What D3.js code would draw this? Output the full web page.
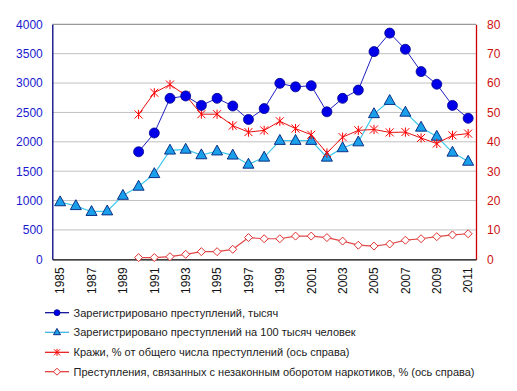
<!DOCTYPE html>
<html>
<head>
<meta charset="utf-8">
<script src="https://cdn.jsdelivr.net/npm/d3@7"></script>
<style>
  html, body { margin: 0; padding: 0; background: #fff; }
  svg { display: block; font-family: "Liberation Sans", Arial, sans-serif; }
</style>
</head>
<body>
<svg id="chart" width="517" height="391"></svg>
<script>
const years = d3.range(1985, 2012);
const tickYears = [1985, 1987, 1989, 1991, 1993, 1995, 1997, 1999, 2001, 2003, 2005, 2007, 2009, 2011];
const leftTicks = [0, 500, 1000, 1500, 2000, 2500, 3000, 3500, 4000];
const rightTicks = [0, 10, 20, 30, 40, 50, 60, 70, 80];

// Registered crimes, thousands (from 1990)
const crimesYears = d3.range(1990, 2012);
const crimes = [1830, 2150, 2740, 2780, 2620, 2740, 2610, 2380, 2565, 2995, 2935, 2955, 2510, 2740, 2880, 3535, 3850, 3575, 3195, 2980, 2620, 2400];

// Registered crimes per 100 thousand people (from 1985)
const perCapita = [975, 910, 810, 820, 1085, 1240, 1455, 1855, 1870, 1775, 1840, 1770, 1615, 1735, 2020, 2020, 2020, 1735, 1895, 1995, 2475, 2700, 2500, 2245, 2090, 1820, 1665];

// Thefts, % of total crimes (right axis, from 1990)
const thefts = [49.3, 56.7, 59.5, 55.8, 49.4, 49.4, 45.5, 43.3, 43.9, 47.0, 44.5, 42.4, 36.2, 41.6, 43.9, 44.2, 43.2, 43.3, 41.3, 39.4, 42.2, 42.8];

// Drug-related crimes, % (right axis, from 1990)
const drugs = [0.6, 0.6, 0.9, 1.7, 2.6, 2.6, 3.4, 7.4, 7.0, 7.0, 7.9, 7.9, 7.4, 6.2, 4.8, 4.5, 5.2, 6.5, 7.0, 7.7, 8.3, 8.7];

const legendLabels = [
  "Зарегистрировано преступлений, тысяч",
  "Зарегистрировано преступлений на 100 тысяч человек",
  "Кражи, % от общего числа преступлений (ось справа)",
  "Преступления, связанных с незаконным оборотом наркотиков, % (ось справа)"
];

const svg = d3.select("#chart");
const L = 52.3, R = 476, T = 24.3, B = 259.3;

const x = d3.scaleBand().domain(years).range([L, R]);
const cx = yr => x(yr) + x.bandwidth() / 2;
const yL = d3.scaleLinear().domain([0, 4000]).range([B, T]);
const yR = d3.scaleLinear().domain([0, 80]).range([B, T]);

// gridlines
svg.append("g").selectAll("line").data(leftTicks.filter(v => v > 0 && v < 4000)).join("line")
  .attr("x1", L).attr("x2", R).attr("y1", d => yL(d)).attr("y2", d => yL(d))
  .attr("stroke", "#c0c0c0").attr("stroke-width", 1);
// top border
svg.append("line").attr("x1", L).attr("x2", R).attr("y1", T).attr("y2", T).attr("stroke", "#808080");

// left axis
const gL = svg.append("g").attr("transform", `translate(${L},0)`)
  .call(d3.axisLeft(yL).tickValues(leftTicks).tickSize(0).tickPadding(9.5).tickFormat(d3.format("d")));
gL.select(".domain").attr("stroke", "#000080").attr("stroke-width", 1.3);
gL.selectAll("text").attr("fill", "#1a1ad0").style("font-size", "12px").style("font-family", "Liberation Sans, Arial, sans-serif");

// right axis
const gR = svg.append("g").attr("transform", `translate(${R},0)`)
  .call(d3.axisRight(yR).tickValues(rightTicks).tickSize(0).tickPadding(11).tickFormat(d3.format("d")));
gR.select(".domain").attr("stroke", "#cc0000").attr("stroke-width", 1.3);
gR.selectAll("text").attr("fill", "#cc1010").style("font-size", "12px").style("font-family", "Liberation Sans, Arial, sans-serif");

// bottom axis
const gB = svg.append("g").attr("transform", `translate(0,${B})`)
  .call(d3.axisBottom(x).tickValues(tickYears).tickSize(0).tickPadding(0));
gB.select(".domain").attr("stroke", "#000").attr("stroke-width", 1.3);
gB.selectAll("text")
  .attr("transform", "rotate(-90)")
  .attr("text-anchor", "end")
  .attr("x", -8).attr("y", 0).attr("dy", "0.36em")
  .attr("fill", "#111").style("font-size", "12px").style("font-family", "Liberation Sans, Arial, sans-serif");

// marker drawers
function dot(g, r) {
  g.append("circle").attr("r", r).attr("fill", "#0000e8").attr("stroke", "#000090").attr("stroke-width", 0.8);
}
function tri(g, s) {
  const h = s * 0.9;
  g.append("path").attr("d", `M0,${-h * 0.62}L${s / 2},${h * 0.38}L${-s / 2},${h * 0.38}Z`)
    .attr("fill", "#1aa0ea").attr("stroke", "#00207a").attr("stroke-width", 0.9);
}
function star(g, s) {
  const a = s / 2;
  g.append("path").attr("d", `M${-a},${-a}L${a},${a}M${-a},${a}L${a},${-a}M0,${-a * 1.15}L0,${a * 1.15}`)
    .attr("stroke", "#ff0000").attr("stroke-width", 1).attr("fill", "none");
}
function diamond(g, s) {
  const a = s / 2;
  g.append("path").attr("d", `M0,${-a}L${a},0L0,${a}L${-a},0Z`)
    .attr("fill", "#fff").attr("stroke", "#e03030").attr("stroke-width", 1);
}

function series(yrs, vals, yScale, color, width, marker, size) {
  const pts = yrs.map((yr, i) => [cx(yr), yScale(vals[i])]);
  svg.append("path").attr("d", d3.line()(pts)).attr("fill", "none")
    .attr("stroke", color).attr("stroke-width", width);
  svg.append("g").selectAll("g").data(pts).join("g")
    .attr("transform", d => `translate(${d[0]},${d[1]})`)
    .each(function () { marker(d3.select(this), size); });
}

series(crimesYears, drugs, yR, "#e04848", 1.2, diamond, 8);
series(years, perCapita, yL, "#40c8ec", 1.2, tri, 11);
series(crimesYears, thefts, yR, "#e81010", 1, star, 8);
series(crimesYears, crimes, yL, "#2020c0", 1, dot, 5);

// legend
const legendY = [312.7, 332.3, 352.3, 371.7];
const legendColors = ["#000090", "#30b0e0", "#e81010", "#e03030"];
const legendMarkers = [[dot, 3], [tri, 7], [star, 6], [diamond, 7]];
legendLabels.forEach((lab, i) => {
  const g = svg.append("g").attr("transform", `translate(0,${legendY[i]})`);
  g.append("line").attr("x1", 45).attr("x2", 69).attr("y1", 0).attr("y2", 0)
    .attr("stroke", legendColors[i]).attr("stroke-width", 1.2);
  const m = g.append("g").attr("transform", "translate(57,0)");
  legendMarkers[i][0](m, legendMarkers[i][1]);
  g.append("text").attr("x", 73.5).attr("y", 0).attr("dy", "0.35em")
    .attr("fill", "#222").style("font-size", "11px").text(lab);
});
</script>
</body>
</html>
